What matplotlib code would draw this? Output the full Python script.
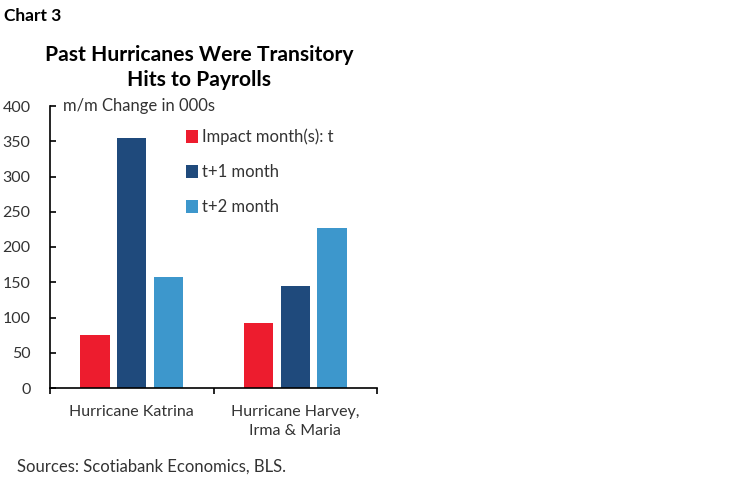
import matplotlib.pyplot as plt
import numpy as np

plt.rcParams['font.family'] = ['Lato', 'DejaVu Sans']

categories = ["Hurricane Katrina", "Hurricane Harvey,\nIrma & Maria"]
series = ["Impact month(s): t", "t+1 month", "t+2 month"]
impact = [75, 92]
t_plus_1 = [354, 145]
t_plus_2 = [158, 227]
colors = ["#ED1C2E", "#1F4A7C", "#3D97CC"]

fig = plt.figure(figsize=(7.48, 4.83), dpi=100)
ax = fig.add_axes([50 / 748, 1 - 388 / 483, 327 / 748, 282 / 483])

x = np.arange(len(categories))
w = 0.178
offs = [-0.225, 0, 0.225]
for vals, off, c, lab in zip([impact, t_plus_1, t_plus_2], offs, colors, series):
    ax.bar(x + off, vals, w, color=c, label=lab)

ax.set_xlim(-0.5, 1.5)
ax.set_ylim(0, 400)
ax.set_yticks(range(0, 401, 50))
ax.set_xticks([-0.5, 0.5, 1.5])
ax.set_xticklabels([])
ax.tick_params(axis='y', direction='in', length=4, width=1.2, labelsize=11.5,
               colors='black', labelcolor='#333333', pad=14)
ax.tick_params(axis='x', direction='out', length=4, width=1.2)
for s in ['top', 'right']:
    ax.spines[s].set_visible(False)
for s in ['left', 'bottom']:
    ax.spines[s].set_linewidth(1.2)

for i, c in enumerate(categories):
    ax.text(i, -24, c, ha='center', va='top', fontsize=11.5, color='#333333',
            linespacing=1.5)

ax.text(0.04, 1.0, "m/m Change in 000s", transform=ax.transAxes, fontsize=12,
        color='#333333', va='center')

leg = ax.legend(loc='upper left', bbox_to_anchor=(0.415, 0.92), frameon=False,
                fontsize=12, handlelength=0.75, handleheight=0.8,
                handletextpad=0.25, labelspacing=1.15, borderaxespad=0,
                borderpad=0)
for t in leg.get_texts():
    t.set_color('#333333')

fig.text(0.266, 1 - 67.5 / 483, "Past Hurricanes Were Transitory\nHits to Payrolls",
         ha='center', va='center', fontsize=15.2, fontweight='bold',
         linespacing=1.35)
fig.text(4 / 748, 1 - 16 / 483, "Chart 3", fontsize=12.5, fontweight='bold',
         va='center')
fig.text(17 / 748, 1 - 467 / 483, "Sources: Scotiabank Economics, BLS.",
         fontsize=12, color='#333333', va='center')

fig.savefig("out.png", dpi=100)
